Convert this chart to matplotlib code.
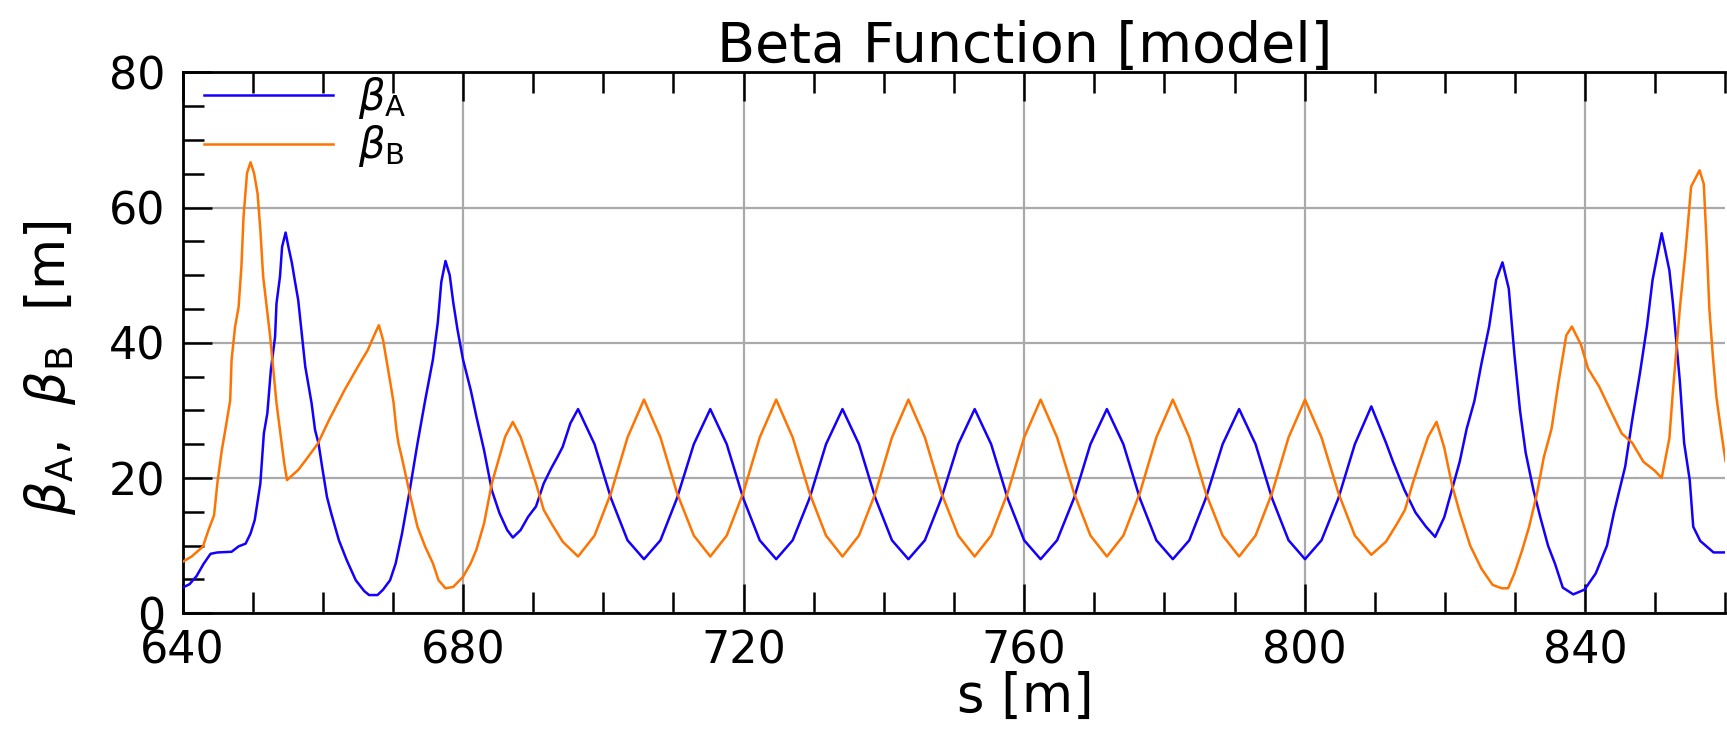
import matplotlib
matplotlib.use("Agg")
import matplotlib.pyplot as plt
from matplotlib.ticker import MultipleLocator

# ---------------- data ----------------
s_A = [640.0, 641.0, 642.0, 643.0, 644.0, 645.0, 647.0, 648.0, 649.0, 649.7,
       650.3, 651.1, 651.6, 652.1, 652.6, 653.2, 653.4, 653.9, 654.2, 654.7,
       655.1, 655.6, 656.0, 656.5, 657.0, 657.5, 658.0, 658.4, 658.9, 659.4,
       659.9, 660.6, 661.2, 662.3, 663.4, 664.7, 665.9, 666.6, 667.8, 668.6,
       669.6, 670.4, 671.3, 672.4, 673.5, 674.6, 675.7, 676.4, 676.9, 677.5,
       678.1, 678.6, 679.2, 680.0, 681.1, 681.9, 683.0, 684.1, 685.2, 686.3,
       687.1, 688.2, 689.3, 690.4, 691.5, 692.6, 693.4, 694.2, 695.3,
       696.4, 698.75, 701.1, 703.45, 705.8, 708.15, 710.5, 712.9,
       715.25, 717.6, 719.95, 722.3, 724.65, 727.0, 729.4, 731.75,
       734.1, 736.45, 738.8, 741.15, 743.5, 745.85, 748.2, 750.6,
       752.95, 755.3, 757.65, 760.0, 762.35, 764.7, 767.1, 769.45,
       771.8, 774.15, 776.5, 778.85, 781.2, 783.55, 785.9, 788.3,
       790.65, 793.0, 795.35, 797.7, 800.05, 802.4, 804.8, 807.15,
       809.5, 811.6, 812.6, 814.2, 815.8, 817.3, 818.6, 819.9, 821.0, 822.1,
       823.1, 824.2, 825.2, 826.3, 827.3, 828.2, 829.1, 829.9, 830.7, 831.5,
       832.6, 833.6, 834.7, 835.7, 836.8, 838.3, 839.9, 841.5, 843.1, 844.1,
       845.7, 846.7, 847.8, 848.8, 849.6, 850.9, 852.0, 852.5, 853.5, 854.1,
       854.9, 855.4, 856.4, 858.3, 860.0]
beta_A = [3.8, 4.3, 5.5, 7.3, 8.8, 9.0, 9.1, 9.9, 10.3, 11.8,
          13.8, 19.2, 26.6, 29.6, 36.0, 40.9, 45.8, 49.8, 54.2, 56.3,
          54.2, 51.8, 49.3, 46.3, 41.4, 36.5, 33.5, 31.1, 27.1, 25.1,
          21.7, 17.2, 14.8, 10.8, 7.9, 4.9, 3.3, 2.7, 2.7, 3.5,
          4.9, 7.4, 11.8, 18.2, 25.1, 31.5, 37.5, 43.0, 49.0, 52.1,
          50.0, 46.0, 42.0, 37.5, 33.0, 29.1, 24.1, 18.2, 14.8, 12.3,
          11.2, 12.3, 14.3, 15.8, 19.2, 21.5, 23.0, 24.6, 28.1,
          30.2, 25.0, 17.0, 10.8, 8.0, 10.8, 17.0, 25.0,
          30.2, 25.0, 17.0, 10.8, 8.0, 10.8, 17.0, 25.0,
          30.2, 25.0, 17.0, 10.8, 8.0, 10.8, 17.0, 25.0,
          30.2, 25.0, 17.0, 10.8, 8.0, 10.8, 17.0, 25.0,
          30.2, 25.0, 17.0, 10.8, 8.0, 10.8, 17.0, 25.0,
          30.2, 25.0, 17.0, 10.8, 8.0, 10.8, 17.0, 25.0,
          30.6, 25.2, 22.4, 18.3, 14.9, 12.8, 11.3, 14.2, 18.3, 22.4,
          27.3, 31.4, 36.9, 42.4, 49.3, 51.9, 48.0, 38.3, 30.0, 23.8,
          18.3, 14.2, 10.0, 7.3, 3.8, 2.8, 3.5, 5.9, 10.0, 14.9,
          21.7, 28.6, 35.5, 42.4, 49.3, 56.2, 50.7, 45.9, 34.2, 25.2,
          19.7, 12.8, 10.7, 9.0, 9.0]

s_B = [640.0, 641.3, 642.9, 643.7, 644.5, 645.0, 645.6, 646.1, 646.8, 647.0,
       647.5, 648.0, 648.4, 648.7, 649.2, 649.7, 650.2, 650.7, 651.1, 651.5,
       652.1, 652.5, 652.9, 653.4, 653.9, 654.5, 654.9, 656.5, 657.6, 659.3,
       660.9, 663.1, 665.3, 666.4, 667.5, 668.0, 668.6, 669.6, 670.1, 670.5,
       670.8, 671.3, 672.4, 673.5, 674.6, 675.7, 676.5, 677.5, 678.6, 680.0,
       681.1, 681.9, 683.0, 684.1, 685.2, 686.0, 687.1, 688.2, 689.3, 690.4,
       691.5, 692.6, 694.2,
       696.4, 698.75, 701.1, 703.45, 705.8, 708.15, 710.5, 712.9,
       715.25, 717.6, 719.95, 722.3, 724.65, 727.0, 729.4, 731.75,
       734.1, 736.45, 738.8, 741.15, 743.5, 745.85, 748.2, 750.6,
       752.95, 755.3, 757.65, 760.0, 762.35, 764.7, 767.1, 769.45,
       771.8, 774.15, 776.5, 778.85, 781.2, 783.55, 785.9, 788.3,
       790.65, 793.0, 795.35, 797.7, 800.05, 802.4, 804.8, 807.15,
       809.5, 811.6, 813.2, 814.3, 815.4, 816.5, 817.6, 818.8, 819.9, 821.0,
       822.1, 823.6, 825.2, 826.8, 828.1, 829.0, 829.9, 831.0, 832.0, 833.1,
       834.1, 835.2, 836.2, 837.3, 838.1, 839.4, 840.4, 842.0, 843.6, 845.2,
       846.7, 848.3, 849.9, 850.9, 852.0, 852.5, 853.5, 854.3, 855.1, 856.3,
       856.9, 857.3, 857.7, 858.2, 858.7, 859.3, 860.0]
beta_B = [7.6, 8.4, 9.85, 12.3, 14.5, 19.5, 24.1, 27.1, 31.5, 37.5,
          42.4, 45.3, 51.3, 58.6, 65.1, 66.7, 65.1, 62.1, 56.7, 49.8,
          44.4, 40.9, 36.5, 31.1, 27.1, 22.2, 19.7, 21.2, 22.7, 25.1,
          28.6, 33.0, 37.0, 38.9, 41.5, 42.6, 40.4, 34.3, 31.1, 27.1,
          25.1, 22.9, 17.7, 12.8, 9.85, 7.4, 4.9, 3.7, 3.9, 5.4,
          7.4, 9.4, 13.3, 19.2, 23.2, 26.1, 28.3, 26.1, 22.7, 19.2,
          15.3, 13.3, 10.6,
          8.4, 11.5, 17.8, 26.0, 31.6, 26.0, 17.8, 11.5,
          8.4, 11.5, 17.8, 26.0, 31.6, 26.0, 17.8, 11.5,
          8.4, 11.5, 17.8, 26.0, 31.6, 26.0, 17.8, 11.5,
          8.4, 11.5, 17.8, 26.0, 31.6, 26.0, 17.8, 11.5,
          8.4, 11.5, 17.8, 26.0, 31.6, 26.0, 17.8, 11.5,
          8.4, 11.5, 17.8, 26.0, 31.6, 26.0, 17.8, 11.5,
          8.65, 10.6, 13.3, 15.3, 19.2, 22.7, 26.1, 28.3, 24.5, 19.0,
          14.9, 10.0, 6.6, 4.2, 3.7, 3.7, 5.9, 9.3, 12.8, 17.6,
          23.1, 27.3, 34.2, 41.1, 42.4, 39.7, 36.2, 33.5, 30.0, 26.6,
          25.2, 22.4, 21.1, 20.0, 25.9, 32.8, 45.2, 53.5, 63.1, 65.5,
          63.5, 55.0, 45.0, 38.0, 32.0, 27.5, 22.5]

labels = [r'$\beta_{\rm A}$', r'$\beta_{\rm B}$']
title = 'Beta Function [model]'
xlabel = 's [m]'
ylabel = r'$\beta_{\rm A}$,  $\beta_{\rm B}$  [m]'

# ---------------- figure ----------------
W, H = 1727, 731
fig = plt.figure(figsize=(W / 100, H / 100), dpi=100)
ax = fig.add_axes([182.5 / W, 1 - 613.3 / H, 1543 / W, 541 / H])

ax.plot(s_A, beta_A, color='#1400ff', lw=1.8, label=labels[0], zorder=3)
ax.plot(s_B, beta_B, color='#ff7400', lw=1.8, label=labels[1], zorder=3)

ax.set_xlim(640, 860)
ax.set_ylim(0, 80)
ax.xaxis.set_major_locator(MultipleLocator(40))
ax.xaxis.set_minor_locator(MultipleLocator(10))
ax.yaxis.set_major_locator(MultipleLocator(20))
ax.yaxis.set_minor_locator(MultipleLocator(5))
ax.grid(True, which='major', color='#aaaaaa', lw=1.6, zorder=0)
ax.set_axisbelow(True)

ax.tick_params(which='both', direction='in', top=True, right=False,
               width=1.8, color='black', labelsize=32, pad=12)
ax.tick_params(which='major', length=21)
ax.tick_params(which='minor', length=15)
for side in ['left', 'bottom', 'top']:
    ax.spines[side].set_linewidth(2.0)
ax.spines['right'].set_visible(False)

leg = ax.legend(loc='upper left', bbox_to_anchor=(0.014, 0.995),
                frameon=False, fontsize=30, handlelength=3.1,
                handletextpad=0.6, labelspacing=0.05, borderpad=0,
                borderaxespad=0)

fig.text(1025 / W, 1 - 62 / H, title, ha='center', va='baseline', fontsize=40)
fig.text(1025 / W, 1 - 712 / H, xlabel, ha='center', va='baseline', fontsize=38)
fig.text(50 / W, 1 - 368 / H, ylabel, ha='center', va='center',
         rotation=90, fontsize=38)

fig.savefig('out.png', dpi=100)
